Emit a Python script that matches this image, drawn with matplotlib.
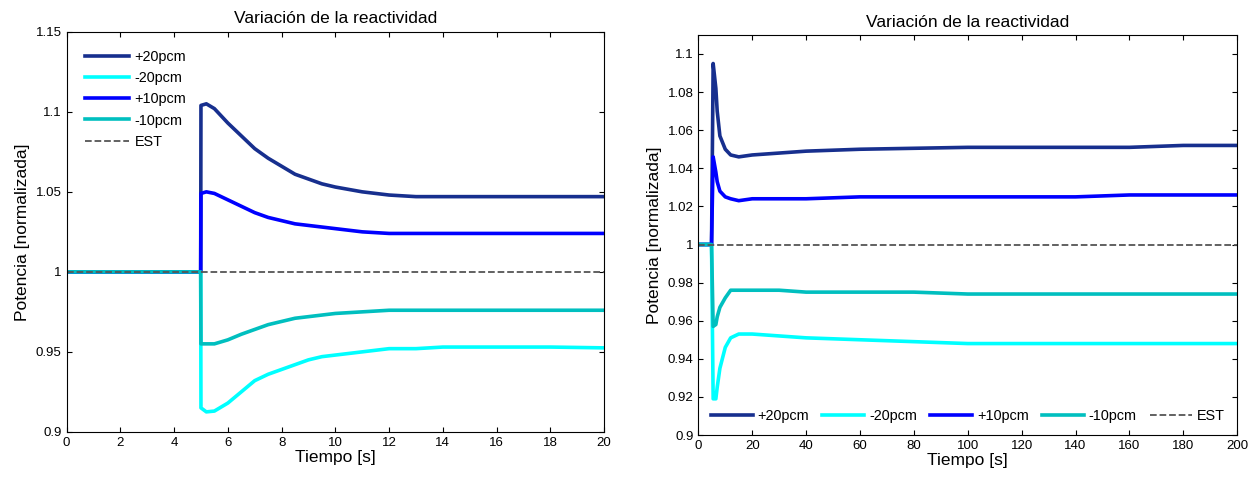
import numpy as np
import matplotlib.pyplot as plt

plt.rcParams['font.family'] = ['Liberation Sans', 'DejaVu Sans']

# --- left panel: 0-20 s ---
t_a = [0, 4.99, 5.0, 5.2, 5.5, 6, 6.5, 7, 7.5, 8, 8.5, 9, 9.5, 10, 11, 12, 13, 14, 16, 18, 20]
p20_a = [1.0, 1.0, 1.104, 1.105, 1.102, 1.093, 1.085, 1.077, 1.071, 1.066, 1.061, 1.058,
         1.055, 1.053, 1.050, 1.048, 1.047, 1.047, 1.047, 1.047, 1.047]
p10_a = [1.0, 1.0, 1.049, 1.050, 1.049, 1.045, 1.041, 1.037, 1.034, 1.032, 1.030, 1.029,
         1.028, 1.027, 1.025, 1.024, 1.024, 1.024, 1.024, 1.024, 1.024]
m10_a = [1.0, 1.0, 0.955, 0.955, 0.955, 0.9575, 0.961, 0.964, 0.967, 0.969, 0.971, 0.972,
         0.973, 0.974, 0.975, 0.976, 0.976, 0.976, 0.976, 0.976, 0.976]
m20_a = [1.0, 1.0, 0.915, 0.9125, 0.913, 0.918, 0.925, 0.932, 0.936, 0.939, 0.942, 0.945,
         0.947, 0.948, 0.950, 0.952, 0.952, 0.953, 0.953, 0.953, 0.9525]

# --- right panel: 0-200 s ---
t_b = [0, 4.9, 5.5, 6.5, 7, 8, 10, 12, 15, 20, 30, 40, 60, 80, 100, 120, 140, 160, 180, 200]
p20_b = [1.0, 1.0, 1.095, 1.082, 1.070, 1.057, 1.050, 1.047, 1.046, 1.047, 1.048, 1.049,
         1.050, 1.0505, 1.051, 1.051, 1.051, 1.051, 1.052, 1.052]
p10_b = [1.0, 1.0, 1.046, 1.038, 1.033, 1.028, 1.025, 1.024, 1.023, 1.024, 1.024, 1.024,
         1.025, 1.025, 1.025, 1.025, 1.025, 1.026, 1.026, 1.026]
m10_b = [1.0, 1.0, 0.957, 0.958, 0.962, 0.967, 0.972, 0.976, 0.976, 0.976, 0.976, 0.975,
         0.975, 0.975, 0.974, 0.974, 0.974, 0.974, 0.974, 0.974]
m20_b = [1.0, 1.0, 0.919, 0.919, 0.925, 0.935, 0.946, 0.951, 0.953, 0.953, 0.952, 0.951,
         0.950, 0.949, 0.948, 0.948, 0.948, 0.948, 0.948, 0.948]

labels = ['+20pcm', '-20pcm', '+10pcm', '-10pcm']
colors = ['#172f8e', '#00ffff', '#0000ff', '#00bfbf']


def draw(axis, t, series, xlim, ylim, yticks, xticks):
    for y, lab, c in zip(series, labels, colors):
        axis.plot(t, y, color=c, lw=2.6, label=lab, solid_joinstyle='round')
    axis.plot(xlim, [1, 1], color='#555555', ls='--', lw=1.3, label='EST')
    axis.set_xlim(xlim)
    axis.set_ylim(ylim)
    axis.set_xticks(xticks)
    axis.set_yticks(yticks)
    axis.set_yticklabels(['%g' % v for v in yticks])
    axis.tick_params(direction='in', top=True, right=True, labelsize=9.5, length=3.5)
    axis.set_title('Variación de la reactividad', fontsize=12.5)
    axis.set_xlabel('Tiempo [s]', fontsize=12.5, labelpad=1)
    axis.set_ylabel('Potencia [normalizada]', fontsize=12.5, labelpad=4)


fig = plt.figure(figsize=(12.56, 4.82), dpi=100)

ax1 = fig.add_axes([0.053, 0.104, 0.428, 0.83])
draw(ax1, t_a, [p20_a, m20_a, p10_a, m10_a], [0, 20], [0.9, 1.15],
     [0.9, 0.95, 1.0, 1.05, 1.1, 1.15], np.arange(0, 21, 2))
ax1.legend(loc='upper left', frameon=False, fontsize=10.4, handlelength=3.1,
           handletextpad=0.35, borderaxespad=0.85, labelspacing=0.5)

ax2 = fig.add_axes([0.556, 0.0975, 0.429, 0.83])
draw(ax2, t_b, [p20_b, m20_b, p10_b, m10_b], [0, 200], [0.9, 1.11],
     np.round(np.arange(0.9, 1.101, 0.02), 2), np.arange(0, 201, 20))
ax2.legend(loc='lower center', ncol=5, frameon=False, fontsize=10.4,
           handlelength=2.9, handletextpad=0.35, columnspacing=0.9,
           borderaxespad=0.45)

fig.savefig('out.png', dpi=100)
